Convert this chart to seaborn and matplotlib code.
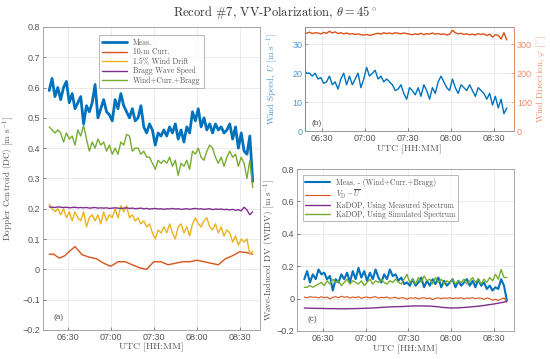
import matplotlib as mpl
mpl.use('Agg')
import matplotlib.pyplot as plt
import matplotlib.dates as mdates
import matplotlib.ticker as ticker
import numpy as np
import pandas as pd
import seaborn as sns

sns.set_style("ticks")
plt.rcParams['font.family'] = ['Liberation Sans', 'DejaVu Sans']
plt.rcParams['mathtext.fontset'] = 'cm'
plt.rcParams['axes.unicode_minus'] = True

########## DATA ###########
# minutes after 06:00 UTC, 2-min sampling
minutes = list(range(17, 161, 2))

meas_dc = [0.59, 0.63, 0.57, 0.60, 0.56, 0.60, 0.62, 0.55, 0.58, 0.53, 0.55, 0.57, 0.48, 0.54, 0.52, 0.55,
           0.61, 0.50, 0.53, 0.56, 0.52, 0.51, 0.49, 0.56, 0.53, 0.58, 0.54, 0.52, 0.50, 0.53, 0.49, 0.50,
           0.54, 0.47, 0.45, 0.48, 0.46, 0.41, 0.45, 0.44, 0.46, 0.44, 0.47, 0.45, 0.48, 0.43, 0.46, 0.42,
           0.47, 0.45, 0.52, 0.49, 0.53, 0.47, 0.50, 0.46, 0.48, 0.45, 0.48, 0.46, 0.47, 0.45, 0.46, 0.48,
           0.43, 0.47, 0.40, 0.45, 0.39, 0.38, 0.44, 0.29]
model_dc = [0.47, 0.46, 0.45, 0.46, 0.45, 0.42, 0.45, 0.43, 0.44, 0.41, 0.46, 0.44, 0.475, 0.43, 0.39, 0.42,
            0.40, 0.43, 0.41, 0.42, 0.39, 0.41, 0.38, 0.40, 0.38, 0.42, 0.41, 0.445, 0.44, 0.39, 0.40, 0.40,
            0.38, 0.39, 0.37, 0.37, 0.35, 0.33, 0.36, 0.35, 0.36, 0.35, 0.37, 0.34, 0.36, 0.31, 0.35, 0.34,
            0.36, 0.33, 0.39, 0.38, 0.40, 0.37, 0.36, 0.39, 0.41, 0.40, 0.37, 0.35, 0.37, 0.34, 0.37, 0.39,
            0.37, 0.38, 0.34, 0.37, 0.35, 0.30, 0.36, 0.27]
wind_drift = [0.215, 0.20, 0.19, 0.20, 0.18, 0.20, 0.17, 0.19, 0.16, 0.19, 0.17, 0.16, 0.19, 0.14, 0.17, 0.18,
              0.16, 0.18, 0.15, 0.19, 0.16, 0.18, 0.17, 0.20, 0.17, 0.21, 0.19, 0.21, 0.17, 0.18, 0.16, 0.17,
              0.15, 0.16, 0.14, 0.15, 0.12, 0.10, 0.13, 0.12, 0.14, 0.12, 0.15, 0.12, 0.10, 0.14, 0.15, 0.12,
              0.14, 0.11, 0.15, 0.17, 0.15, 0.14, 0.16, 0.17, 0.14, 0.13, 0.15, 0.12, 0.14, 0.11, 0.13, 0.12,
              0.09, 0.11, 0.08, 0.10, 0.09, 0.10, 0.05, 0.06]
bragg = [0.206, 0.205, 0.204, 0.206, 0.205, 0.204, 0.205, 0.203, 0.204, 0.205, 0.203, 0.204, 0.203, 0.204, 0.202, 0.203,
         0.204, 0.202, 0.203, 0.202, 0.203, 0.201, 0.202, 0.203, 0.202, 0.201, 0.202, 0.203, 0.201, 0.202, 0.200, 0.201,
         0.202, 0.200, 0.201, 0.199, 0.200, 0.201, 0.199, 0.200, 0.198, 0.200, 0.199, 0.201, 0.199, 0.200, 0.198, 0.199,
         0.200, 0.198, 0.200, 0.201, 0.199, 0.200, 0.198, 0.199, 0.200, 0.197, 0.199, 0.198, 0.199, 0.197, 0.198, 0.196,
         0.198, 0.195, 0.197, 0.193, 0.205, 0.196, 0.180, 0.190]

# 10-m current, coarser sampling
curr_minutes = [17, 20, 24, 28, 30, 35, 40, 45, 50, 55, 60, 65, 70, 75, 80, 85, 90, 95, 100, 105, 110,
                115, 120, 125, 130, 135, 140, 145, 150, 155, 159]
curr_10m = [0.050, 0.050, 0.037, 0.045, 0.055, 0.075, 0.048, 0.040, 0.035, 0.020, 0.010, 0.025, 0.025, 0.015,
            0.005, 0.000, 0.025, 0.025, 0.015, 0.020, 0.025, 0.025, 0.030, 0.025, 0.020, 0.015, 0.035, 0.045,
            0.058, 0.055, 0.050]

wind_speed = [21.5, 20, 20, 19, 20, 18, 18.5, 16.5, 17, 19, 16, 17, 14.5, 18, 20, 16,
              19, 16, 18, 20, 15, 18, 22, 19, 20, 21, 18, 19, 17, 18, 17, 16,
              14, 14.5, 16, 13, 11, 15, 14, 12.5, 15, 12, 16, 14, 11, 15, 13, 17,
              19, 17, 15, 14, 18, 15, 13, 16, 15, 14, 16, 14, 12, 15, 14, 13,
              11, 13, 9, 12, 8, 11, 6, 8]
wind_dir = [340, 338, 342, 337, 340, 339, 336, 341, 338, 345, 339, 343, 337, 340, 336, 339,
            335, 337, 334, 336, 333, 332, 334, 331, 333, 336, 338, 335, 340, 337, 339, 336,
            340, 338, 336, 339, 337, 335, 333, 336, 334, 338, 333, 337, 335, 339, 335, 337,
            334, 336, 332, 335, 348, 340, 336, 338, 334, 336, 333, 335, 332, 337, 334, 336,
            330, 335, 325, 333, 331, 318, 340, 315]

widv_meas = [0.12, 0.17, 0.10, 0.15, 0.12, 0.18, 0.15, 0.16, 0.12, 0.14, 0.05, 0.12, 0.10, 0.15, 0.12, 0.16,
             0.10, 0.17, 0.12, 0.19, 0.13, 0.17, 0.11, 0.16, 0.12, 0.18, 0.13, 0.10, 0.15, 0.12, 0.18, 0.14,
             0.15, 0.11, 0.13, 0.09, 0.10, 0.08, 0.12, 0.08, 0.10, 0.13, 0.07, 0.11, 0.08, 0.12, 0.09, 0.13,
             0.07, 0.11, 0.08, 0.10, 0.12, 0.07, 0.11, 0.08, 0.10, 0.12, 0.08, 0.11, 0.07, 0.12, 0.08, 0.10,
             0.06, 0.08, 0.05, 0.07, 0.06, 0.12, 0.08, -0.01]
widv_vd = [0.010, 0.005, 0.012, 0.008, 0.010, 0.004, 0.012, 0.006, 0.010, -0.002, 0.008, 0.012, 0.005, 0.015, 0.008, 0.012,
           0.004, 0.010, 0.006, 0.012, 0.002, 0.008, 0.010, 0.004, 0.009, 0.012, 0.003, 0.008, 0.006, 0.010, 0.002, 0.006,
           0.008, 0.000, 0.006, 0.004, -0.004, 0.005, 0.002, 0.006, -0.002, 0.004, 0.006, 0.000, 0.004, -0.006, 0.002, 0.005,
           0.000, 0.004, 0.002, 0.006, 0.000, 0.004, 0.002, 0.006, -0.002, 0.004, 0.002, 0.006, 0.000, 0.004, 0.002, -0.004,
           0.004, 0.000, -0.010, -0.004, -0.012, -0.002, 0.004, -0.020]
widv_sim = [0.07, 0.07, 0.08, 0.07, 0.08, 0.09, 0.10, 0.08, 0.11, 0.09, 0.12, 0.10, 0.11, 0.08, 0.10, 0.12,
            0.09, 0.11, 0.10, 0.09, 0.11, 0.08, 0.10, 0.12, 0.09, 0.11, 0.10, 0.12, 0.10, 0.09, 0.11, 0.10,
            0.12, 0.10, 0.09, 0.12, 0.15, 0.10, 0.12, 0.09, 0.13, 0.10, 0.14, 0.11, 0.12, 0.09, 0.13, 0.10,
            0.12, 0.09, 0.11, 0.10, 0.12, 0.09, 0.11, 0.10, 0.12, 0.09, 0.11, 0.13, 0.10, 0.12, 0.09, 0.12,
            0.10, 0.13, 0.11, 0.15, 0.12, 0.18, 0.13, 0.13]
kadop_minutes = [17, 25, 35, 45, 55, 65, 75, 85, 95, 105, 110, 115, 120, 125, 130, 140, 150, 155, 159]
widv_kadop = [-0.058, -0.060, -0.062, -0.063, -0.061, -0.058, -0.052, -0.049, -0.045, -0.046, -0.050, -0.055,
              -0.058, -0.057, -0.054, -0.046, -0.033, -0.025, -0.018]

########## PLOT ###########
t0 = pd.Timestamp('2000-01-01 06:00')
def tt(m):
    return t0 + pd.to_timedelta(np.asarray(m, dtype=float), unit='min')

c_blue, c_orange, c_yellow, c_purple, c_green = '#0072BD', '#D95319', '#EDB120', '#7E2F8E', '#77AC30'
txt = '#555555'
serif = ['cmr10', 'DejaVu Serif']
fmt1 = ticker.FuncFormatter(lambda v, p: '0' if abs(v) < 1e-9 else ('%.1f' % v).replace('-', '\u2212'))

fig = plt.figure(figsize=(5.5, 3.59), dpi=100)
axa = fig.add_axes([0.078, 0.081, 0.395, 0.844])
axb = fig.add_axes([0.555, 0.635, 0.380, 0.290])
axc = fig.add_axes([0.540, 0.078, 0.395, 0.451])

def style(ax, xlim):
    ax.set_xlim(tt(xlim[0]), tt(xlim[1]))
    ax.xaxis.set_major_locator(mdates.MinuteLocator(byminute=[0, 30]))
    ax.xaxis.set_major_formatter(mdates.DateFormatter('%H:%M'))
    ax.grid(True, color='#e6e6e6', lw=0.6)
    ax.tick_params(labelsize=6.5, colors=txt, direction='in', length=2, width=0.5, pad=2)
    for s in ax.spines.values():
        s.set_color('#999999')
        s.set_linewidth(0.6)
    ax.set_xlabel('UTC [HH:MM]', fontsize=7, color=txt, family=serif, labelpad=1)

# (a)
sns.lineplot(x=tt(minutes), y=meas_dc, ax=axa, color=c_blue, lw=2.0, label='Meas.')
sns.lineplot(x=tt(curr_minutes), y=curr_10m, ax=axa, color=c_orange, lw=1.0, label='10-m Curr.')
sns.lineplot(x=tt(minutes), y=wind_drift, ax=axa, color=c_yellow, lw=1.0, label='1.5% Wind Drift')
sns.lineplot(x=tt(minutes), y=bragg, ax=axa, color=c_purple, lw=1.0, label='Bragg Wave Speed')
sns.lineplot(x=tt(minutes), y=model_dc, ax=axa, color=c_green, lw=1.0, label='Wind+Curr.+Bragg')
style(axa, (12.6, 164.2))
axa.set_ylim(-0.2, 0.8)
axa.yaxis.set_major_locator(ticker.MultipleLocator(0.1))
axa.yaxis.set_major_formatter(fmt1)
axa.set_ylabel('Doppler Centroid (DC) [m s$^{-1}$]', fontsize=6.5, color=txt, family=serif)
axa.yaxis.set_label_coords(-0.125, 0.5)
leg = axa.legend(loc='upper center', bbox_to_anchor=(0.5, 0.985), frameon=True,
                 fancybox=False, edgecolor='#999999', handlelength=3.2, labelspacing=0.15,
                 borderpad=0.4, prop={'family': serif, 'size': 5.5})
for t in leg.get_texts():
    t.set_color(txt)
leg.get_frame().set_linewidth(0.6)
axa.text(0.05, 0.035, '(a)', transform=axa.transAxes, fontsize=6, color=txt)

# (b)
c_ws, c_wd = '#4f95cc', '#ec8a66'
sns.lineplot(x=tt(minutes), y=wind_speed, ax=axb, color=c_blue, lw=1.0)
style(axb, (18.1, 164.2))
axb.set_ylim(0, 36)
axb.yaxis.set_major_locator(ticker.MultipleLocator(10))
axb.set_ylabel('Wind Speed, $U$ [m s$^{-1}$]', fontsize=6.5, color=c_ws, family=serif)
axb.yaxis.set_label_coords(-0.12, 0.5)
axb.tick_params(axis='y', colors=c_ws)
axb.spines['left'].set_color(c_ws)
axb2 = axb.twinx()
sns.lineplot(x=tt(minutes), y=wind_dir, ax=axb2, color=c_orange, lw=1.0)
axb2.set_ylim(0, 360)
axb2.yaxis.set_major_locator(ticker.MultipleLocator(100))
axb2.tick_params(axis='y', colors=c_wd, labelsize=6.5, direction='in', length=2, width=0.5, pad=2)
axb2.set_ylabel('Wind Direction, $\\varphi$ [$^\\circ$]', fontsize=6.5, color=c_wd, family=serif, labelpad=2)
for s in axb2.spines.values():
    s.set_color('#999999')
    s.set_linewidth(0.6)
axb2.spines['right'].set_color(c_wd)
axb2.spines['left'].set_color(c_ws)
axb.text(0.03, 0.06, '(b)', transform=axb.transAxes, fontsize=6, color=txt)

# (c)
sns.lineplot(x=tt(minutes), y=widv_meas, ax=axc, color=c_blue, lw=1.5, label='Meas. - (Wind+Curr.+Bragg)')
sns.lineplot(x=tt(minutes), y=widv_vd, ax=axc, color=c_orange, lw=0.8, label='$V_\\mathrm{D} - \\overline{U}$')
sns.lineplot(x=tt(kadop_minutes), y=widv_kadop, ax=axc, color=c_purple, lw=1.0, label='KaDOP, Using Measured Spectrum')
sns.lineplot(x=tt(minutes), y=widv_sim, ax=axc, color=c_green, lw=1.0, label='KaDOP, Using Simulated Spectrum')
style(axc, (11.9, 164.2))
axc.set_ylim(-0.2, 0.8)
axc.yaxis.set_major_locator(ticker.MultipleLocator(0.2))
axc.yaxis.set_major_formatter(fmt1)
axc.set_ylabel('Wave-Induced DV (WIDV) [m s$^{-1}$]', fontsize=6.5, color=txt, family=serif)
axc.yaxis.set_label_coords(-0.09, 0.5)
leg = axc.legend(loc='upper left', bbox_to_anchor=(0.01, 0.985), frameon=True,
                 fancybox=False, edgecolor='#999999', handlelength=3.2, labelspacing=0.1,
                 borderpad=0.3, prop={'family': serif, 'size': 5.5})
for t in leg.get_texts():
    t.set_color(txt)
leg.get_frame().set_linewidth(0.6)
axc.text(0.05, 0.06, '(c)', transform=axc.transAxes, fontsize=6, color=txt)

fig.text(0.5, 0.965, 'Record #7, VV-Polarization, $\\theta = 45^\\circ$', ha='center', va='center',
         fontsize=9, color='#333333', family=serif)

fig.savefig('out.png', dpi=100)
